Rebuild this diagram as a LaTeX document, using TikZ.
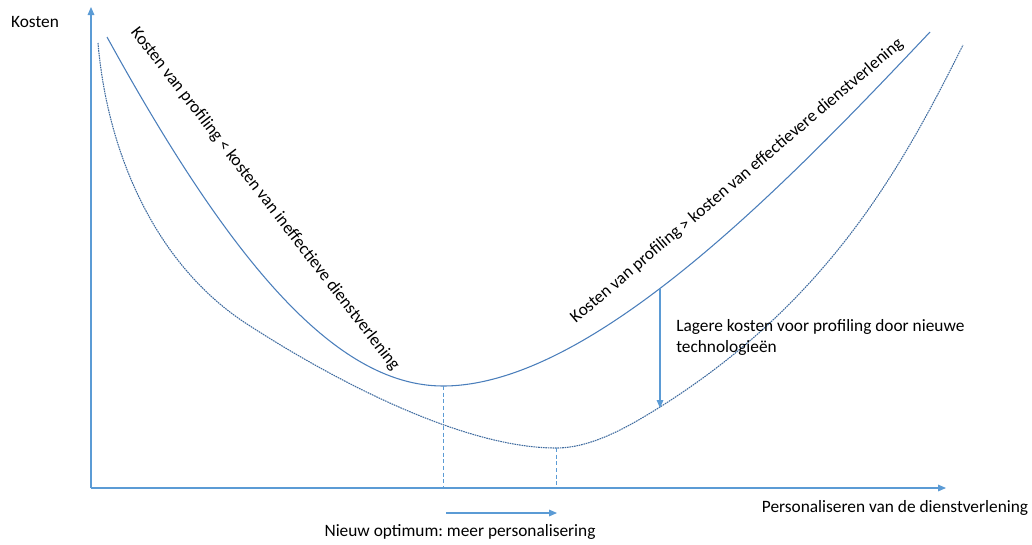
\documentclass[tikz,border=0pt]{standalone}
\usepackage{fontspec}
\setmainfont{Carlito}
\usepackage{tikz}
\usetikzlibrary{arrows.meta}
\definecolor{axisblue}{HTML}{5B9BD5}
\definecolor{curveblue}{HTML}{4A7EBB}
\tikzset{
    axisline/.style={axisblue, line width=0.8pt, -{Triangle[width=5pt,length=6pt]}},
    guideline/.style={axisblue, line width=0.7pt, dash pattern=on 3pt off 2pt},
    costcurve/.style={curveblue, line width=0.8pt},
    newcurve/.style={curveblue!85!black, line width=0.8pt, dash pattern=on 1.2pt off 0.6pt},
    label/.style={inner sep=0pt, text=black}
}
\frenchspacing
\begin{document}
\begin{tikzpicture}[x=0.75pt, y=-0.75pt, font=\fontsize{13pt}{16pt}\selectfont]
        \useasboundingbox (0,0) rectangle (1032,544);
        % Axes
        \coordinate (origin) at (91,488);
        \coordinate (ytop) at (91,7);
        \coordinate (xend) at (946,488);
        \draw [axisline] (origin) -- (ytop);
        \draw [axisline] (origin) -- (xend);
        \node [label] (kosten) at (35,22) {Kosten};
        \node [label] (personaliseren) at (895,508) {Personaliseren van de dienstverlening};
        % Optima
        \coordinate (oldmin) at (443,386);
        \coordinate (oldfoot) at (443,488);
        \coordinate (newmin) at (556,448);
        \coordinate (newfoot) at (556,488);
        % Curves
        \draw [costcurve] (107,37) .. controls (227,255) and (333,386) .. (oldmin)
            .. controls (593,386) and (790,180) .. (930,32);
        \draw [newcurve] (98,43) .. controls (108,160) and (160,268) .. (247,324)
            .. controls (327,376) and (460,448) .. (newmin)
            .. controls (590,448) and (625,429) .. (660,407)
            .. controls (830,300) and (903,165) .. (963,45);
        \draw [guideline] (oldmin) -- (oldfoot);
        \draw [guideline] (newmin) -- (newfoot);
        \coordinate (shiftstart) at (446,513);
        \coordinate (shiftend) at (557,513);
        \draw [axisline] (shiftstart) -- (shiftend);
        \node [label] (optimum) at (460,532) {Nieuw optimum: meer personalisering};
        % Lower costs
        \coordinate (upper) at (660,289);
        \coordinate (lower) at (660,408);
        \draw [axisline] (upper) -- (lower);
        \node [label, anchor=north west, align=left] (lagere) at (676,319) {Lagere kosten voor profiling door nieuwe\\technologieën};
        % Branch labels
        \node [label, rotate=-52.3] (leftlabel) at (265,199) {Kosten van profiling < kosten van ineffectieve dienstverlening};
        \node [label, rotate=40.3] (rightlabel) at (737,181) {Kosten van profiling > kosten van effectievere dienstverlening};
    \end{tikzpicture}
\end{document}
